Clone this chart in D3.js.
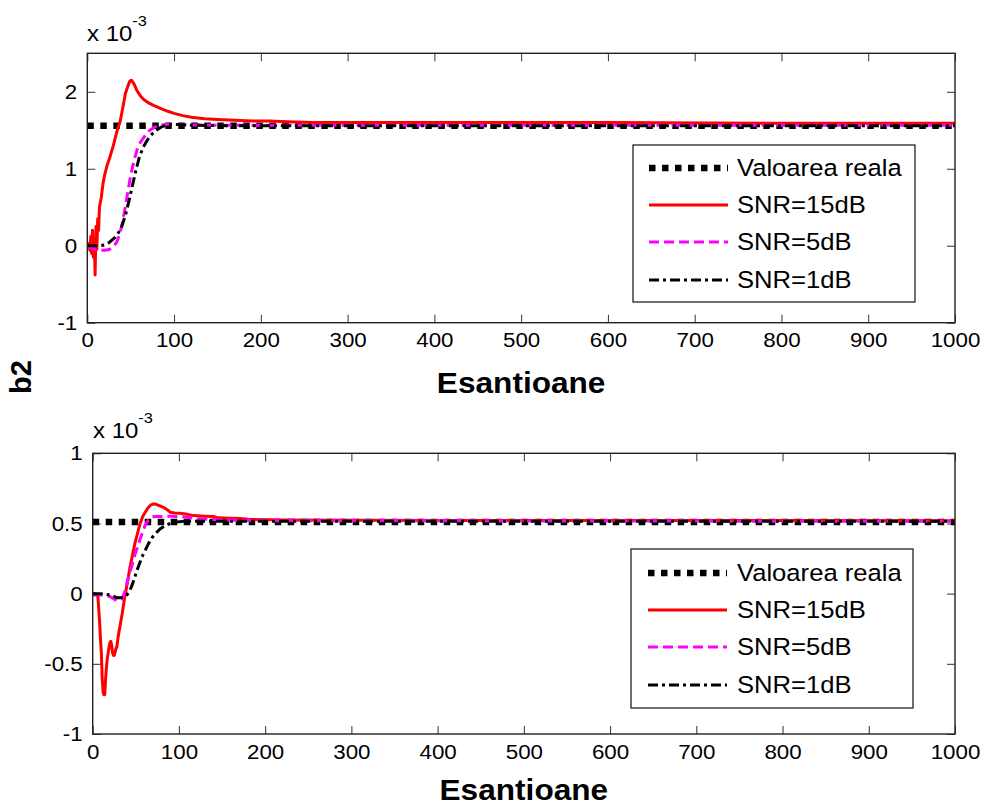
<!DOCTYPE html>
<html><head><meta charset="utf-8">
<script src="https://cdn.jsdelivr.net/npm/d3@7"></script>
<style>body{margin:0;background:#fff} text{font-family:"Liberation Sans",Arial,Helvetica,sans-serif;fill:#000}</style>
</head><body><svg id="c" width="986" height="805"></svg>
<script>
// ---------------- data ----------------
const xTickValues = [0,100,200,300,400,500,600,700,800,900,1000];
const topYTicks = [-1,0,1,2];
const botYTicks = [-1,-0.5,0,0.5,1];
const legendLabels = ["Valoarea reala","SNR=15dB","SNR=5dB","SNR=1dB"];
const yLabel = "b2";
const xLabel = "Esantioane";

const topReal = [[0,1.56],[1000,1.56]];
const top15 = [[0,0],[2,0.03],[3,-0.06],[4,0.12],[5,-0.1],[6,0.2],[7,-0.15],[8,0.08],[9,-0.38],[10,0.25],[11,-0.05],[12,0.35],[13,0.2],[14,0.5],[16,0.62],[18,0.8],[20,0.92],[23,1.05],[26,1.15],[30,1.3],[34,1.48],[38,1.62],[41,1.8],[44,1.98],[47,2.08],[49,2.14],[51,2.15],[54,2.1],[57,2.02],[61,1.95],[65,1.9],[70,1.86],[77,1.82],[85,1.78],[92,1.75],[100,1.72],[110,1.69],[120,1.67],[135,1.65],[150,1.64],[170,1.63],[190,1.62],[210,1.62],[230,1.61],[260,1.6],[300,1.6],[400,1.6],[600,1.6],[800,1.59],[1000,1.59]];
const top5 = [[0,0],[5,-0.03],[10,-0.05],[15,-0.06],[20,-0.06],[25,-0.05],[30,-0.02],[34,0.05],[37,0.14],[40,0.27],[43,0.45],[46,0.65],[49,0.85],[52,1.02],[55,1.15],[58,1.27],[61,1.34],[64,1.39],[68,1.45],[72,1.5],[76,1.53],[80,1.55],[86,1.57],[92,1.58],[100,1.575],[120,1.57],[150,1.565],[200,1.565],[1000,1.565]];
const top1 = [[0,0],[5,0],[10,0],[15,0],[20,0.01],[25,0.04],[28,0.07],[32,0.11],[36,0.17],[40,0.26],[44,0.4],[48,0.58],[52,0.78],[56,0.98],[60,1.15],[64,1.27],[68,1.35],[72,1.42],[78,1.49],[85,1.54],[92,1.57],[100,1.575],[120,1.565],[160,1.56],[1000,1.56]];

const botReal = [[0,0.51],[1000,0.51]];
const bot15 = [[0,0],[3,0],[6,-0.02],[8,-0.2],[9,-0.32],[10,-0.42],[11,-0.6],[12,-0.7],[13,-0.72],[14,-0.72],[15,-0.6],[16,-0.52],[17,-0.46],[18,-0.42],[19,-0.38],[20,-0.35],[21,-0.34],[22,-0.37],[23,-0.42],[24,-0.44],[25,-0.44],[26,-0.42],[27,-0.39],[28,-0.38],[29,-0.33],[30,-0.29],[32,-0.22],[34,-0.15],[37,-0.03],[40,0.07],[43,0.18],[46,0.27],[49,0.36],[52,0.43],[55,0.5],[58,0.55],[61,0.58],[64,0.61],[67,0.63],[71,0.64],[74,0.635],[78,0.625],[82,0.615],[86,0.6],[90,0.58],[95,0.575],[101,0.573],[110,0.565],[117,0.556],[130,0.552],[140,0.55],[145,0.54],[160,0.537],[171,0.535],[180,0.53],[220,0.525],[400,0.522],[1000,0.52]];
const bot5 = [[0,-0.01],[10,-0.01],[20,-0.02],[25,-0.04],[28,-0.05],[31,-0.05],[34,-0.04],[37,0.01],[40,0.08],[43,0.15],[46,0.21],[49,0.28],[52,0.33],[55,0.39],[58,0.44],[61,0.49],[64,0.52],[68,0.545],[72,0.55],[78,0.55],[90,0.552],[101,0.55],[120,0.535],[147,0.525],[200,0.52],[1000,0.515]];
const bot1 = [[0,0],[10,0],[20,-0.01],[25,-0.02],[28,-0.03],[32,-0.03],[36,-0.025],[39,-0.015],[42,0.01],[45,0.05],[48,0.1],[51,0.16],[54,0.21],[57,0.26],[61,0.31],[65,0.36],[69,0.4],[73,0.43],[78,0.46],[84,0.485],[90,0.5],[97,0.51],[105,0.515],[150,0.515],[1000,0.515]];

// ---------------- styles ----------------
const styles = [
  {color:"#000000", width:6.5, dash:"6.5,6.5"},
  {color:"#ff0000", width:3, dash:null},
  {color:"#ff00ff", width:3, dash:"10,5"},
  {color:"#000000", width:3, dash:"10,4,3,4"}
];
const SX = 1.09; // horizontal text stretch in the reference

const svg = d3.select("#c");
svg.append("rect").attr("width",986).attr("height",805).attr("fill","#fff");

function stretch(sel){
  sel.each(function(){
    const t = d3.select(this);
    const x = +t.attr("x")||0, y = +t.attr("y")||0;
    t.attr("x",0).attr("y",0).attr("transform",`translate(${x},${y}) scale(${SX},1)`);
  });
}

function panel(cfg){
  const {x0,x1,y0,y1,yDomain,yTicks,series,legend,id} = cfg;
  const x = d3.scaleLinear().domain([0,1000]).range([x0,x1]);
  const y = d3.scaleLinear().domain(yDomain).range([y1,y0]);
  const g = svg.append("g");
  g.append("clipPath").attr("id",id).append("rect")
    .attr("x",x0).attr("y",y0).attr("width",x1-x0).attr("height",y1-y0);

  const fmt = d=>String(d);
  const bottom = g.append("g").attr("transform",`translate(0,${y1})`)
    .call(d3.axisBottom(x).tickValues(xTickValues).tickFormat(fmt).tickSizeInner(-8).tickSizeOuter(0).tickPadding(10));
  const top = g.append("g").attr("transform",`translate(0,${y0})`)
    .call(d3.axisTop(x).tickValues(xTickValues).tickFormat("").tickSizeInner(-8).tickSizeOuter(0));
  const left = g.append("g").attr("transform",`translate(${x0},0)`)
    .call(d3.axisLeft(y).tickValues(yTicks).tickFormat(fmt).tickSizeInner(-8).tickSizeOuter(0).tickPadding(10));
  const right = g.append("g").attr("transform",`translate(${x1},0)`)
    .call(d3.axisRight(y).tickValues(yTicks).tickFormat("").tickSizeInner(-8).tickSizeOuter(0));
  [bottom,top,left,right].forEach(a=>{
    a.select(".domain").remove();
    a.selectAll("line").attr("stroke","#333").attr("stroke-width",1);
    a.selectAll("text").attr("font-size",20.5).attr("font-family",null).attr("fill","#000");
  });
  stretch(bottom.selectAll("text"));
  stretch(left.selectAll("text"));

  const line = d3.line().x(d=>x(d[0])).y(d=>y(d[1]));
  const lg = g.append("g").attr("clip-path",`url(#${id})`);
  series.forEach((s,i)=>{
    const st = styles[i];
    lg.append("path").datum(s).attr("d",line).attr("fill","none")
      .attr("stroke",st.color).attr("stroke-width",st.width)
      .attr("stroke-dasharray",st.dash).attr("stroke-linejoin","round");
  });

  g.append("rect").attr("x",x0).attr("y",y0).attr("width",x1-x0).attr("height",y1-y0)
    .attr("fill","none").attr("stroke","#222").attr("stroke-width",1.4);

  // exponent label
  const ex = g.append("text").attr("font-size",22)
    .attr("transform",`translate(${cfg.expX},${cfg.expY}) scale(${SX},1)`);
  ex.append("tspan").text("x 10");
  ex.append("tspan").attr("font-size",15).attr("dy",-15).text("-3");

  // x label
  g.append("text").attr("font-size",29).attr("font-weight","bold").attr("text-anchor","middle")
    .attr("transform",`translate(${(x0+x1)/2},${cfg.xLabY}) scale(${SX},1)`).text(xLabel);

  // legend
  const L = legend;
  const lgd = g.append("g");
  lgd.append("rect").attr("x",L.x).attr("y",L.y).attr("width",L.w).attr("height",L.h)
    .attr("fill","#fff").attr("stroke","#111").attr("stroke-width",1.2);
  legendLabels.forEach((lab,i)=>{
    const st = styles[i];
    const cy = L.y + L.rows[i];
    lgd.append("line").attr("x1",L.lx0).attr("x2",L.lx1).attr("y1",cy).attr("y2",cy)
      .attr("stroke",st.color).attr("stroke-width",st.width).attr("stroke-dasharray",st.dash);
    lgd.append("text").attr("font-size",23.5).attr("dy","0.36em")
      .attr("transform",`translate(${L.tx},${cy}) scale(${SX},1)`).text(lab);
  });
}

panel({id:"clipTop", x0:87.3, x1:955, y0:53.3, y1:322.7, yDomain:[-1,2.5], yTicks:topYTicks,
  series:[topReal,top15,top5,top1], expX:87, expY:40.5, xLabY:393,
  legend:{x:633,y:145,w:282,h:157,rows:[23,60,97,135],lx0:649,lx1:728,tx:737}});
panel({id:"clipBot", x0:92.7, x1:955, y0:453.3, y1:734, yDomain:[-1,1], yTicks:botYTicks,
  series:[botReal,bot15,bot5,bot1], expX:93, expY:438, xLabY:800,
  legend:{x:631,y:549,w:282,h:159,rows:[24,61,98,136],lx0:648,lx1:727,tx:737}});

svg.append("text").attr("font-size",29).attr("font-weight","bold").attr("text-anchor","middle")
  .attr("dy","0.35em").attr("transform","translate(21,377) rotate(-90)").text(yLabel);
</script></body></html>
